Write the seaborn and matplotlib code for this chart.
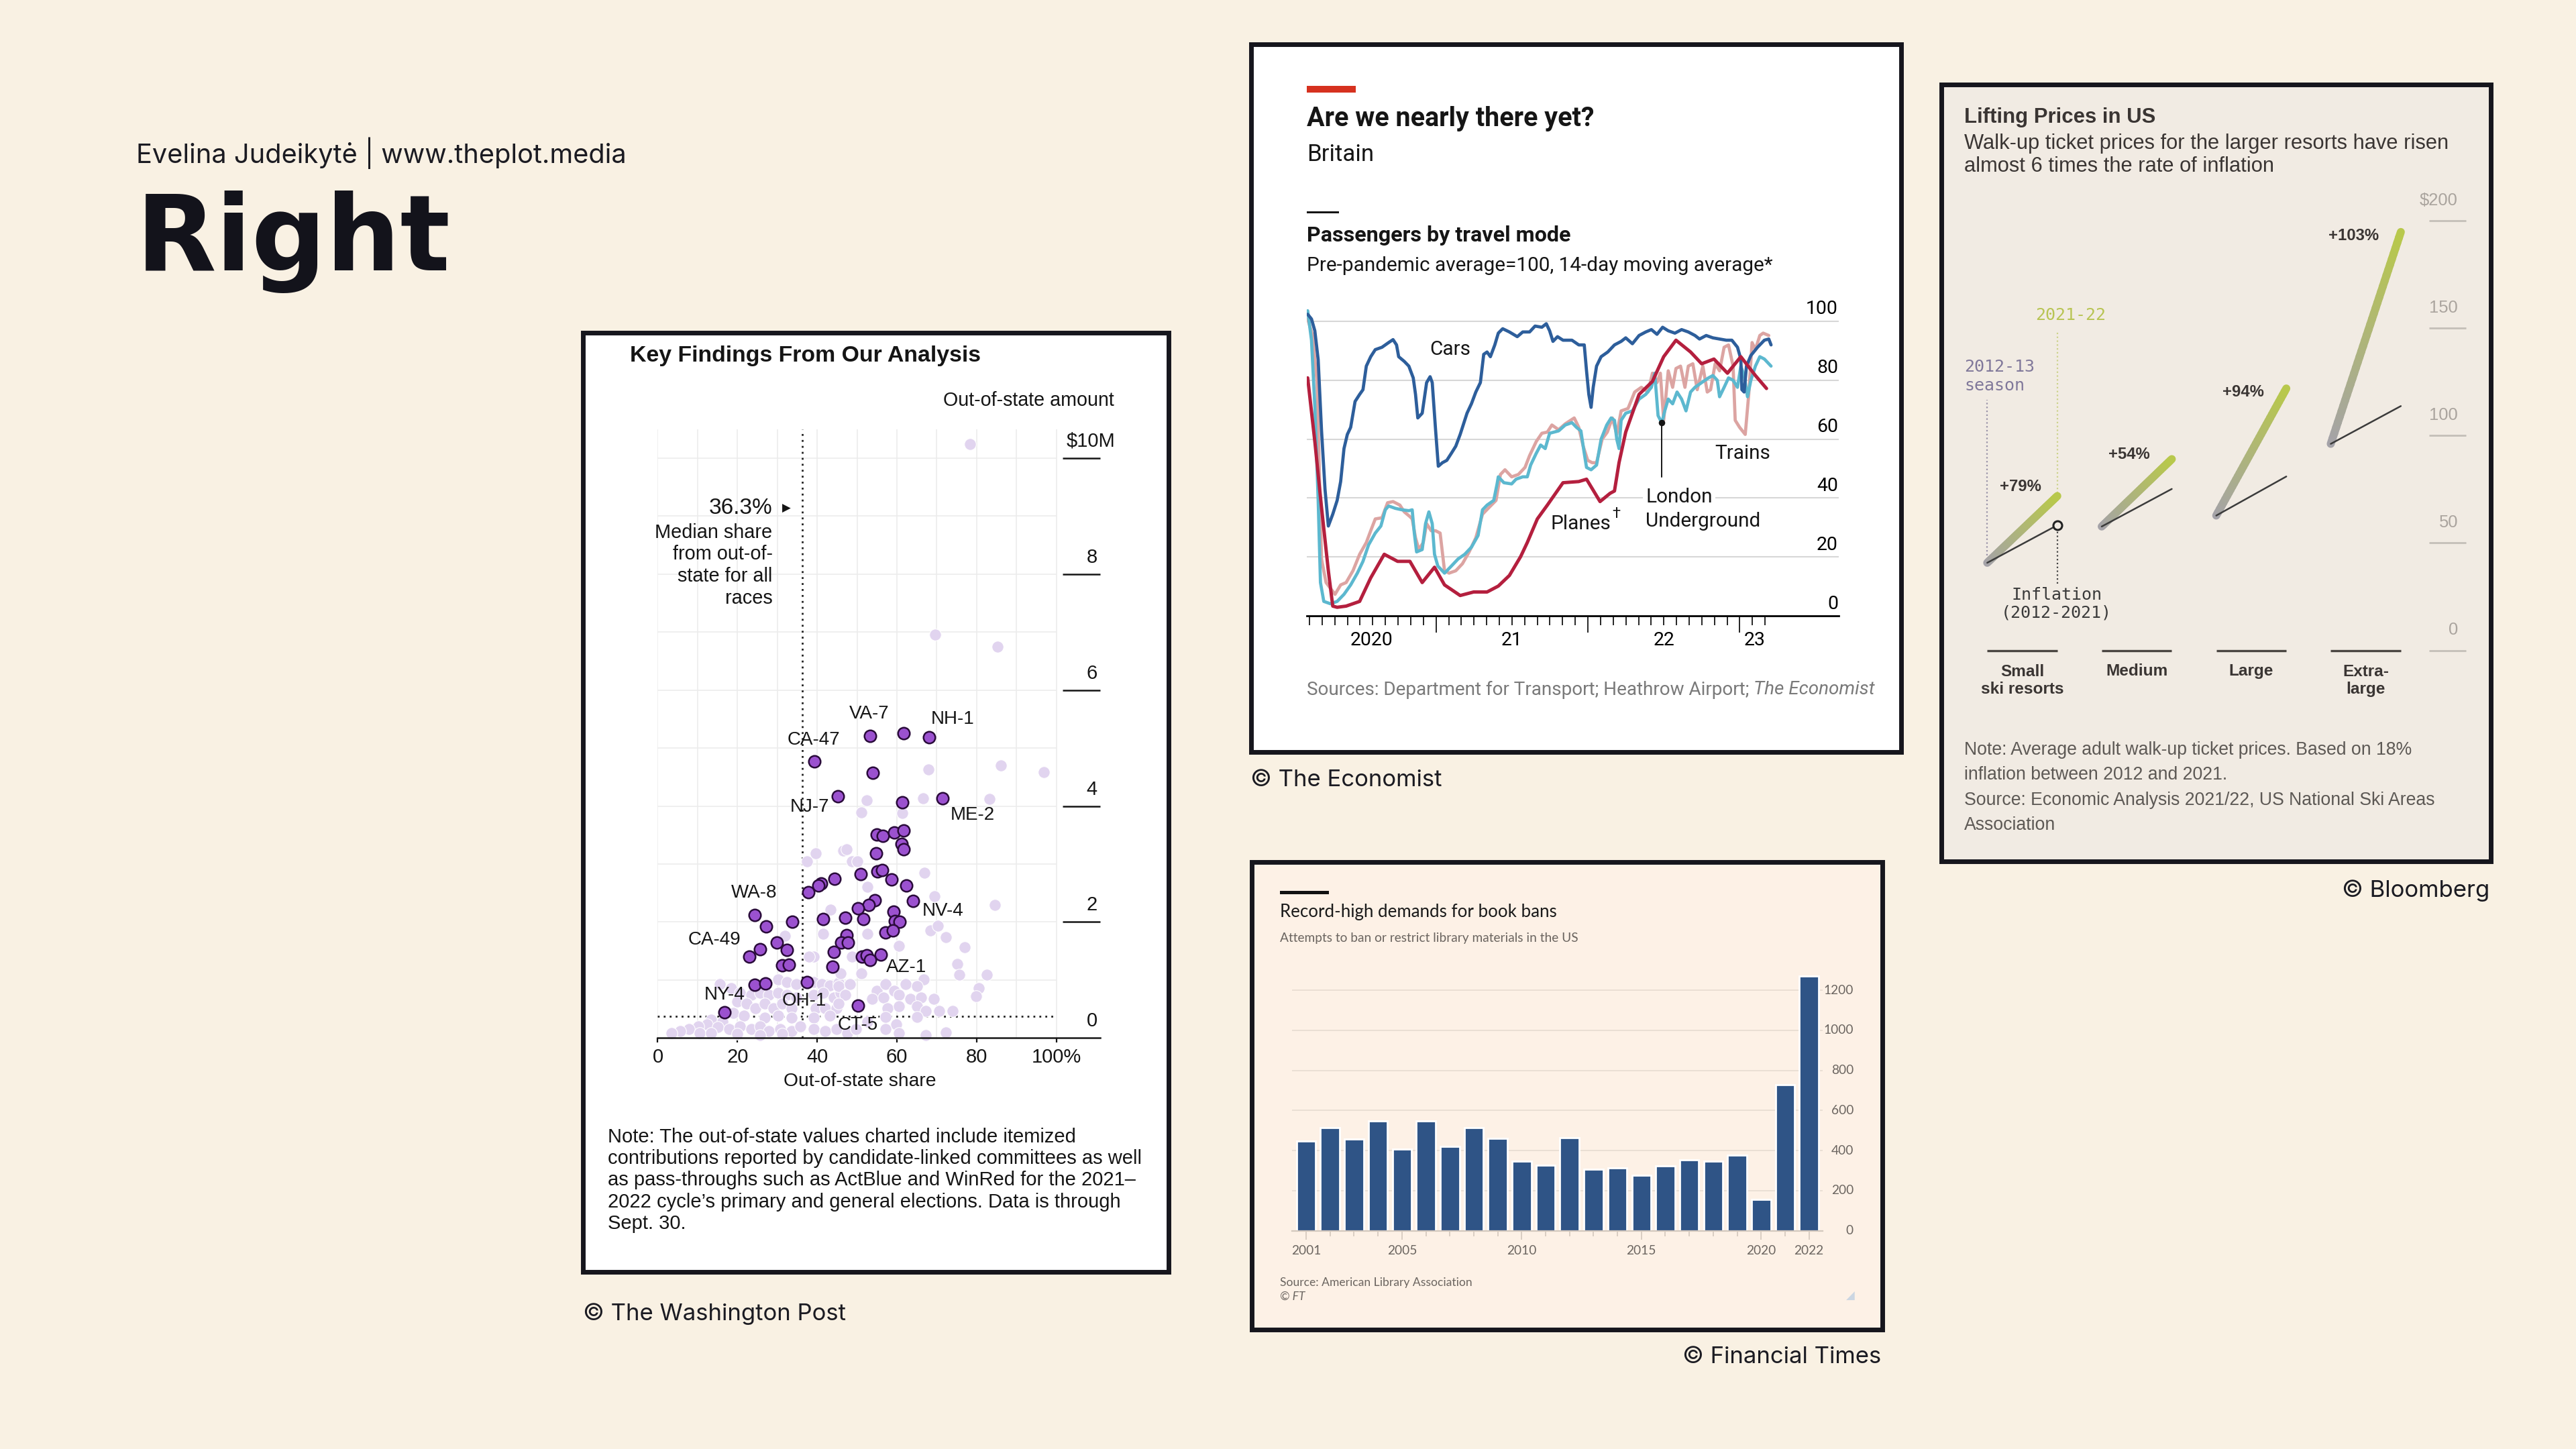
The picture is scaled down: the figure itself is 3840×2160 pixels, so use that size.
import numpy as np
import seaborn as sns
import matplotlib
matplotlib.use("Agg")
import matplotlib.pyplot as plt
from matplotlib.patches import Rectangle
from matplotlib.collections import LineCollection
from matplotlib.colors import to_rgb
from matplotlib import font_manager

sns.set_theme(style="white")
plt.rcParams["font.family"] = ["Liberation Sans", "DejaVu Sans"]

fonts_here = {f.name for f in font_manager.fontManager.ttflist}
ECON = "Liberation Sans Narrow" if "Liberation Sans Narrow" in fonts_here else "Roboto"
ECON_SCALE = 1.0 if ECON == "Liberation Sans Narrow" else 0.93

# ---------------- data: Washington Post scatter ----------------
dark_share = [53.2, 61.7, 68.1, 39.3, 54.0, 45.2, 61.3, 71.5, 54.9, 56.5, 59.3, 61.7, 61.2, 61.7,
              54.8, 50.9, 55.1, 56.3, 44.3, 40.9, 40.3, 37.7, 58.7, 62.3, 64.0, 54.4, 53.0, 50.3,
              59.1, 59.5, 60.7, 51.6, 47.1, 41.4, 33.8, 24.3, 27.2, 57.2, 59.0, 47.4, 46.0, 47.7,
              29.8, 25.6, 22.9, 32.4, 44.1, 51.2, 52.4, 53.3, 56.0, 31.2, 32.9, 43.9, 24.3, 27.0,
              37.4, 50.3, 16.7]
dark_amount = [5.21, 5.26, 5.19, 4.77, 4.57, 4.17, 4.06, 4.13, 3.51, 3.49, 3.54, 3.58, 3.35, 3.26,
               3.18, 2.83, 2.87, 2.90, 2.75, 2.67, 2.63, 2.51, 2.73, 2.63, 2.37, 2.38, 2.30, 2.24,
               2.18, 2.02, 2.01, 2.05, 2.07, 2.05, 2.00, 2.12, 1.92, 1.82, 1.85, 1.78, 1.65, 1.65,
               1.65, 1.53, 1.41, 1.52, 1.49, 1.40, 1.43, 1.35, 1.44, 1.25, 1.26, 1.23, 0.92, 0.94,
               0.96, 0.56, 0.44]

light_share = [78.3, 69.6, 85.3, 67.9, 86.0, 96.8, 66.5, 83.3, 52.5, 51.0, 61.4,
               39.7, 37.5, 46.6, 43.4, 41.4, 31.9, 39.2, 38.0, 30.2, 32.4, 34.7, 39.2, 41.2, 43.1,
               45.3, 15.6, 18.4, 20.6, 23.4, 25.6, 27.9, 30.2, 32.4, 34.7, 39.2, 41.4, 44.2, 45.9,
               20.0, 22.3, 24.5, 26.8, 29.0, 31.3, 33.6, 39.7, 42.0, 44.8, 18.9, 21.7, 26.8, 30.2,
               33.6, 39.2, 43.1, 13.4, 16.2, 12.3, 10.1, 7.8, 5.6, 3.4, 15.1, 17.9, 20.6, 23.4,
               25.6, 27.9, 30.7, 33.6, 35.8, 39.2, 42.0, 44.8, 10.6, 13.4, 20.0, 25.6, 31.3,
               47.3, 48.7, 50.1, 66.9, 52.6, 69.5, 84.6, 68.4, 70.3, 72.3, 77.0, 52.6, 60.5, 48.7,
               75.1, 75.6, 82.6, 45.9, 51.0, 66.7, 80.6, 79.8, 45.4, 48.2, 54.9, 57.1, 59.4, 62.2,
               65.0, 47.0, 53.8, 56.6, 60.5, 63.3, 66.1, 69.2, 45.4, 57.7, 60.5, 65.0, 67.2, 70.6,
               74.0, 57.1, 59.9, 65.0, 57.1, 60.5, 72.3, 67.2, 47.6, 49.8, 52.6]
light_amount = [10.24, 6.96, 6.75, 4.63, 4.70, 4.59, 4.13, 4.12, 4.10, 3.89, 3.88,
                3.18, 3.05, 3.23, 2.21, 1.80, 1.76, 1.40, 1.40, 1.01, 0.97, 0.93, 0.97, 0.93, 0.91,
                0.95, 0.93, 0.86, 0.78, 0.74, 0.78, 0.74, 0.78, 0.74, 0.70, 0.74, 0.78, 0.70, 0.78,
                0.63, 0.59, 0.51, 0.59, 0.51, 0.59, 0.51, 0.51, 0.51, 0.51, 0.43, 0.39, 0.35, 0.39,
                0.35, 0.35, 0.39, 0.32, 0.28, 0.24, 0.20, 0.16, 0.12, 0.09, 0.19, 0.16, 0.20, 0.16,
                0.20, 0.12, 0.16, 0.12, 0.20, 0.16, 0.12, 0.16, 0.09, 0.09, 0.07, 0.05, 0.07,
                3.25, 3.05, 3.05, 2.85, 2.61, 2.44, 2.30, 1.86, 1.94, 1.74, 1.57, 1.80, 1.59, 1.40,
                1.28, 1.09, 1.09, 1.12, 1.12, 1.01, 0.86, 0.72, 0.89, 0.93, 0.82, 0.93, 0.82, 0.93,
                0.89, 0.74, 0.67, 0.70, 0.74, 0.67, 0.70, 0.67, 0.59, 0.51, 0.55, 0.55, 0.47, 0.47,
                0.47, 0.36, 0.24, 0.36, 0.16, 0.09, 0.10, 0.05, 0.09, 0.16, 0.28]

race_names = ["VA-7", "NH-1", "CA-47", "NJ-7", "ME-2", "WA-8", "NV-4", "CA-49", "AZ-1", "NY-4", "OH-1", "CT-5"]
race_share = [53.1, 73.9, 39.1, 38.2, 78.9, 24.2, 71.5, 14.2, 62.3, 16.7, 36.7, 50.2]
race_amount = [5.59, 5.50, 5.14, 3.98, 3.85, 2.50, 2.19, 1.69, 1.22, 0.75, 0.64, 0.23]
median_share = 36.3
share_ticks = ["0", "20", "40", "60", "80", "100%"]
amount_ticks = ["0", "2", "4", "6", "8", "$10M"]

# ---------------- data: The Economist lines ----------------
cars_t = [2020.155, 2020.180, 2020.202, 2020.224, 2020.246, 2020.269, 2020.291, 2020.320, 2020.349,
          2020.372, 2020.394, 2020.416, 2020.438, 2020.467, 2020.497, 2020.519, 2020.541, 2020.570,
          2020.600, 2020.644, 2020.688, 2020.717, 2020.740, 2020.754, 2020.791, 2020.821, 2020.850,
          2020.865, 2020.880, 2020.909, 2020.938, 2020.961, 2020.975, 2020.997, 2021.015, 2021.042,
          2021.071, 2021.101, 2021.130, 2021.159, 2021.204, 2021.233, 2021.262, 2021.292, 2021.314,
          2021.336, 2021.358, 2021.387, 2021.410, 2021.439, 2021.483, 2021.535, 2021.571, 2021.616,
          2021.652, 2021.697, 2021.726, 2021.748, 2021.770, 2021.800, 2021.836, 2021.895, 2021.940,
          2021.976, 2021.991, 2022.006, 2022.021, 2022.035, 2022.057, 2022.087, 2022.131, 2022.175,
          2022.219, 2022.249, 2022.293, 2022.337, 2022.381, 2022.418, 2022.455, 2022.492, 2022.529,
          2022.573, 2022.617, 2022.661, 2022.705, 2022.735, 2022.779, 2022.823, 2022.867, 2022.911,
          2022.948, 2022.985, 2023.007, 2023.014, 2023.029, 2023.044, 2023.073, 2023.117, 2023.162,
          2023.191, 2023.206]
cars_v = [102.4, 100.8, 96.8, 87.0, 63.0, 43.0, 30.5, 34.5, 39.2, 45.6, 56.8, 61.6, 64.0, 72.8, 75.2,
          76.8, 84.8, 88.0, 90.4, 91.2, 92.8, 93.8, 92.0, 88.0, 86.4, 84.8, 80.8, 75.2, 67.2, 68.8,
          79.2, 81.2, 79.2, 63.2, 50.8, 52.0, 52.8, 55.2, 57.6, 61.6, 68.8, 72.0, 76.0, 79.2, 88.8,
          89.6, 88.0, 92.0, 96.0, 97.5, 96.4, 94.8, 96.4, 96.4, 98.4, 98.0, 99.2, 96.8, 93.2, 94.8,
          93.6, 93.6, 92.0, 92.0, 83.2, 75.2, 70.8, 77.6, 84.8, 88.0, 89.6, 92.0, 93.2, 94.4, 92.4,
          95.2, 96.4, 97.2, 95.6, 98.0, 96.8, 96.0, 97.2, 96.4, 95.2, 94.0, 95.2, 94.4, 94.0, 93.6,
          93.6, 91.2, 87.2, 76.8, 76.0, 84.8, 88.4, 91.2, 93.6, 94.0, 92.0]

tube_t = [2020.155, 2020.180, 2020.202, 2020.224, 2020.239, 2020.261, 2020.305, 2020.349, 2020.394,
          2020.438, 2020.482, 2020.519, 2020.556, 2020.600, 2020.637, 2020.666, 2020.688, 2020.732,
          2020.776, 2020.821, 2020.843, 2020.857, 2020.872, 2020.909, 2020.931, 2020.953, 2020.975,
          2020.990, 2021.012, 2021.056, 2021.101, 2021.145, 2021.189, 2021.233, 2021.277, 2021.306,
          2021.336, 2021.380, 2021.402, 2021.410, 2021.447, 2021.498, 2021.527, 2021.571, 2021.601,
          2021.623, 2021.660, 2021.689, 2021.719, 2021.748, 2021.807, 2021.851, 2021.895, 2021.925,
          2021.954, 2021.976, 2021.991, 2022.021, 2022.057, 2022.087, 2022.124, 2022.153, 2022.175,
          2022.190, 2022.205, 2022.219, 2022.249, 2022.293, 2022.337, 2022.381, 2022.418, 2022.440,
          2022.462, 2022.487, 2022.506, 2022.529, 2022.558, 2022.587, 2022.617, 2022.646, 2022.676,
          2022.705, 2022.749, 2022.794, 2022.823, 2022.852, 2022.867, 2022.897, 2022.926, 2022.956,
          2022.985, 2023.007, 2023.029, 2023.051, 2023.073, 2023.103, 2023.132, 2023.162, 2023.206]
tube_v = [103.6, 93.6, 71.2, 39.2, 11.3, 4.9, 4.1, 4.9, 7.3, 10.5, 14.5, 18.5, 24.1, 28.1, 30.5, 36.0,
          37.3, 36.5, 36.0, 35.7, 36.0, 28.1, 21.7, 22.5, 31.3, 35.3, 31.3, 20.9, 16.9, 14.5, 16.9,
          19.3, 20.9, 23.3, 27.3, 36.0, 37.6, 39.2, 44.8, 47.2, 45.2, 44.8, 46.4, 47.2, 47.2, 51.2,
          55.2, 58.0, 56.8, 62.0, 62.8, 64.8, 65.6, 64.0, 62.8, 55.2, 50.4, 49.6, 51.2, 60.0, 64.8,
          67.2, 66.4, 60.0, 56.8, 66.4, 68.8, 69.6, 73.6, 75.2, 77.6, 82.4, 68.0, 65.5, 69.6, 73.6,
          72.0, 76.0, 73.6, 69.6, 76.0, 77.6, 79.2, 80.8, 81.6, 80.0, 74.4, 77.6, 80.8, 80.0, 77.6,
          84.8, 81.6, 74.4, 80.0, 84.8, 88.0, 87.2, 84.8]

trains_t = [2020.155, 2020.187, 2020.217, 2020.246, 2020.276, 2020.335, 2020.372, 2020.408, 2020.453,
            2020.497, 2020.541, 2020.570, 2020.600, 2020.644, 2020.681, 2020.717, 2020.762, 2020.791,
            2020.828, 2020.843, 2020.865, 2020.887, 2020.916, 2020.938, 2020.968, 2020.997, 2021.027,
            2021.056, 2021.086, 2021.130, 2021.174, 2021.218, 2021.262, 2021.306, 2021.351, 2021.395,
            2021.424, 2021.454, 2021.498, 2021.542, 2021.586, 2021.616, 2021.660, 2021.697, 2021.733,
            2021.763, 2021.807, 2021.851, 2021.910, 2021.940, 2021.969, 2021.999, 2022.028, 2022.057,
            2022.094, 2022.128, 2022.161, 2022.190, 2022.219, 2022.264, 2022.308, 2022.352, 2022.396,
            2022.425, 2022.455, 2022.477, 2022.499, 2022.529, 2022.558, 2022.580, 2022.610, 2022.639,
            2022.661, 2022.691, 2022.720, 2022.757, 2022.786, 2022.808, 2022.838, 2022.867, 2022.897,
            2022.926, 2022.956, 2022.970, 2022.999, 2023.036, 2023.059, 2023.081, 2023.103, 2023.132,
            2023.154, 2023.191]
trains_v = [100.8, 95.2, 79.2, 19.3, 11.3, 7.3, 10.5, 11.3, 15.3, 20.9, 24.9, 28.9, 32.9, 33.3, 38.4,
            38.8, 37.6, 35.3, 33.7, 32.9, 26.5, 22.5, 24.9, 31.3, 28.9, 28.9, 28.1, 15.3, 14.5, 15.3,
            17.7, 21.7, 26.5, 34.5, 36.9, 39.2, 48.0, 49.6, 47.2, 48.0, 50.4, 54.4, 59.2, 62.0, 62.4,
            64.8, 63.2, 65.2, 67.2, 64.0, 57.6, 52.8, 52.0, 52.0, 60.0, 62.4, 67.2, 61.6, 69.6, 70.4,
            76.0, 77.6, 76.0, 82.4, 79.2, 82.4, 66.4, 83.2, 77.6, 84.0, 84.8, 77.6, 84.8, 85.6, 76.8,
            84.8, 76.0, 76.8, 85.6, 83.2, 91.2, 92.0, 84.8, 66.4, 64.0, 61.6, 75.2, 92.8, 90.4, 95.2,
            96.0, 95.2]

planes_t = [2020.155, 2020.202, 2020.246, 2020.291, 2020.320, 2020.349, 2020.408, 2020.497, 2020.570,
            2020.659, 2020.747, 2020.828, 2020.909, 2020.990, 2021.056, 2021.159, 2021.248, 2021.336,
            2021.410, 2021.483, 2021.557, 2021.601, 2021.667, 2021.733, 2021.836, 2021.940, 2021.991,
            2022.080, 2022.146, 2022.175, 2022.205, 2022.249, 2022.293, 2022.337, 2022.425, 2022.499,
            2022.580, 2022.676, 2022.749, 2022.830, 2022.919, 2023.007, 2023.103, 2023.176]
planes_v = [80.8, 59.2, 36.8, 15.3, 3.3, 2.9, 3.3, 4.9, 12.9, 20.9, 18.5, 18.5, 11.3, 16.5, 10.5, 6.9,
            8.1, 8.1, 10.1, 13.7, 20.1, 24.9, 32.9, 37.6, 45.2, 45.6, 46.4, 38.8, 41.6, 42.4, 52.0,
            62.4, 68.8, 75.2, 79.6, 88.0, 93.6, 89.6, 85.6, 87.2, 82.4, 88.0, 81.6, 77.2]

tube_low_t, tube_low_v = 2022.487, 65.5
econ_yticks = [0, 20, 40, 60, 80, 100]
econ_year_labels = ["2020", "21", "22", "23"]

# ---------------- data: FT bars ----------------
ban_years = list(range(2001, 2023))
ban_counts = [448, 515, 458, 546, 406, 546, 420, 514, 460, 348, 326, 465, 308, 312, 277, 325, 354,
              348, 377, 157, 728, 1269]
ban_year_labels = [2001, 2005, 2010, 2015, 2020, 2022]
ban_yticks = [0, 200, 400, 600, 800, 1000, 1200]

# ---------------- data: Bloomberg ski prices ----------------
resort_names = ["Small\nski resorts", "Medium", "Large", "Extra-\nlarge"]
price_2012 = [40.8, 57.7, 62.8, 96.2]
price_2021 = [71.9, 89.1, 122.0, 194.9]
inflation_end = [58.3, 75.2, 81.0, 113.8]
price_change = ["+79%", "+54%", "+94%", "+103%"]
price_ticks = [0, 50, 100, 150, 200]

# ---------------- layout helpers ----------------
W, H = 3840, 2160
BG = "#f9f1e3"
BORDER = "#16161d"
INK = "#151515"

fig = plt.figure(figsize=(19.2, 10.8), dpi=200)
fig.patch.set_facecolor(BG)


def fx(px):
    return px / W


def fy(py):
    return 1 - py / H


def txt(x, y, s, size, **kw):
    kw.setdefault("va", "center")
    kw.setdefault("color", INK)
    return fig.text(fx(x), fy(y), s, fontsize=size, **kw)


def etxt(x, y, s, size, **kw):
    # economist texts, condensed face when there is one
    kw.setdefault("family", [ECON, "DejaVu Sans"])
    return txt(x, y, s, size * ECON_SCALE, **kw)


def box(x0, y0, x1, y1, face, edge=BORDER, lw=2.5, z=-5):
    fig.add_artist(Rectangle((fx(x0), fy(y1)), (x1 - x0) / W, (y1 - y0) / H,
                             transform=fig.transFigure, facecolor=face, edgecolor=edge,
                             lw=lw, zorder=z))


def axes_px(x0, y0, x1, y1):
    ax = fig.add_axes([fx(x0), fy(y1), (x1 - x0) / W, (y1 - y0) / H])
    ax.set_facecolor("none")
    for s in ["top", "right", "left", "bottom"]:
        ax.spines[s].set_visible(False)
    ax.set_xticks([])
    ax.set_yticks([])
    return ax


# ---------------- page header ----------------
txt(203, 228, "Evelina Judeikytė | www.theplot.media", 14.3, family=["Inter", "DejaVu Sans"], color="#1b1b22")
txt(203, 403, "Right", 56, family=["DejaVu Sans"], weight="heavy", va="baseline", color="#13131b")

txt(869, 1959, "© The Washington Post", 12.5, family=["Inter", "DejaVu Sans"], color="#1b1b22")
txt(1864, 1163, "© The Economist", 12.5, family=["Inter", "DejaVu Sans"], color="#1b1b22")
txt(2804, 2023, "© Financial Times", 12.5, family=["Inter", "DejaVu Sans"], color="#1b1b22", ha="right")
txt(3711, 1328, "© Bloomberg", 12.5, family=["Inter", "DejaVu Sans"], color="#1b1b22", ha="right")

# ---------------- Washington Post ----------------
box(869, 496, 1742, 1896, "white")
txt(939, 531, "Key Findings From Our Analysis", 12.2, weight="bold")
txt(1661, 597, "Out-of-state amount", 10.3, ha="right")

axw = axes_px(980.5, 631.0, 1640.1, 1547.4)
axw.set_xlim(0, 111)
axw.set_ylim(0, 10.6)
axw.spines["bottom"].set_visible(True)
axw.spines["bottom"].set_color(INK)
axw.spines["bottom"].set_linewidth(0.9)
axw.vlines(range(0, 101, 10), 0, 10.5, color="#ececec", lw=0.6, zorder=0)
axw.hlines(range(1, 11), 0, 100, color="#ececec", lw=0.6, zorder=0)
axw.vlines(median_share, 0, 10.5, color="#222222", lw=1.0, linestyles=(0, (1, 2.2)), zorder=1)
axw.hlines(0.38, 0, 100, color="#222222", lw=1.0, linestyles=(0, (1, 2.2)), zorder=1)
axw.set_xticks([0, 20, 40, 60, 80, 100])
axw.set_xticklabels(share_ticks)
axw.tick_params(axis="x", bottom=True, length=2.6, width=0.8, color=INK, pad=2.5,
                labelsize=10.5, labelcolor=INK)
axw.hlines([2, 4, 6, 8, 10], 101.5, 111, color=INK, lw=0.9, clip_on=False)
for v, lab in zip([0, 2, 4, 6, 8, 10], amount_ticks):
    axw.text(114.7 if v == 10 else 110.3, v + 0.29, lab, ha="right", va="center",
             fontsize=10.5, color=INK)

sns.scatterplot(x=light_share, y=light_amount, ax=axw, s=40, color="#e1d4ef",
                edgecolor="white", linewidth=0.4, zorder=2, clip_on=False, legend=False)
sns.scatterplot(x=dark_share, y=dark_amount, ax=axw, s=40, color="#9b51cf",
                edgecolor="#2a0b3b", linewidth=0.9, zorder=3, clip_on=False, legend=False)
for name, xs, ys in zip(race_names, race_share, race_amount):
    axw.text(xs, ys, name, ha="center", va="center", fontsize=10, color=INK, zorder=4)

txt(1151.6, 757, "36.3%", 12, ha="right")
txt(1172, 758, "▶", 6, ha="center", family=["DejaVu Sans"])
for i, line in enumerate(["Median share", "from out-of-", "state for all", "races"]):
    txt(1151.6, 794 + i * 32.5, line, 10.4, ha="right")
txt(1282, 1612, "Out-of-state share", 10.2, ha="center")

wapo_note = ["Note: The out-of-state values charted include itemized",
             "contributions reported by candidate-linked committees as well",
             "as pass-throughs such as ActBlue and WinRed for the 2021–",
             "2022 cycle’s primary and general elections. Data is through",
             "Sept. 30."]
for i, line in enumerate(wapo_note):
    txt(906, 1695 + i * 32.2, line, 10.5)

# ---------------- The Economist ----------------
box(1865, 66, 2834, 1121, "white")
fig.add_artist(Rectangle((fx(1948), fy(137.5)), 73 / W, 9.5 / H, transform=fig.transFigure,
                         facecolor="#d6311f", edgecolor="none", zorder=2))
fig.add_artist(Rectangle((fx(1948), fy(317.5)), 48.5 / W, 2.2 / H, transform=fig.transFigure,
                         facecolor=INK, edgecolor="none", zorder=2))
etxt(1948, 177, "Are we nearly there yet?", 15.3, weight="bold")
etxt(1948, 231, "Britain", 13.5)
etxt(1948, 351, "Passengers by travel mode", 12.5, weight="bold")
etxt(1948, 396, "Pre-pandemic average=100, 14-day moving average*", 11.5)

axe = axes_px(1948, 452.7, 2740.6, 918)
axe.set_xlim(2020.149, 2023.65)
axe.set_ylim(0, 106)
axe.spines["bottom"].set_visible(True)
axe.spines["bottom"].set_color("black")
axe.spines["bottom"].set_linewidth(1.0)
axe.hlines(econ_yticks[1:], 2020.149, 2023.65, color="#d7d7d7", lw=0.75, zorder=0)
month_ticks = 2020 + np.arange(2, 39) / 12
axe.set_xticks([2021, 2022, 2023])
axe.set_xticks([m for m in month_ticks if abs(m - round(m)) > 1e-6], minor=True)
axe.set_xticklabels([])
axe.tick_params(axis="x", which="major", bottom=True, length=9, width=0.6, color="black")
axe.tick_params(axis="x", which="minor", bottom=True, length=5, width=0.6, color="black")

sns.lineplot(x=trains_t, y=trains_v, ax=axe, color="#dca4a2", lw=1.7, zorder=2, estimator=None)
sns.lineplot(x=tube_t, y=tube_v, ax=axe, color="#5cb8cf", lw=1.7, zorder=3, estimator=None)
sns.lineplot(x=cars_t, y=cars_v, ax=axe, color="#2d5e9b", lw=1.7, zorder=4, estimator=None)
sns.lineplot(x=planes_t, y=planes_v, ax=axe, color="#b41f3e", lw=1.8, zorder=5, estimator=None)
axe.plot([tube_low_t, tube_low_t], [tube_low_v, 47.2], color=INK, lw=0.7, zorder=6)
axe.scatter([tube_low_t], [tube_low_v], s=6, color=INK, zorder=6)
axe.set_xlabel("")
axe.set_ylabel("")

for v in econ_yticks:
    etxt(2740, 918 - v * 4.39 - 18, str(v), 11, ha="right", color="black")
for xpos, lab in zip([2044.4, 2253.8, 2480.2, 2616.0], econ_year_labels):
    etxt(xpos, 955, lab, 11, ha="center", color="black")

etxt(2162, 521, "Cars", 11.5, ha="center")
etxt(2312, 781, "Planes", 11.5)
etxt(2403, 766, "†", 8.5)
etxt(2598, 676, "Trains", 11.5, ha="center")
etxt(2453, 741, "London", 11.5, bbox=dict(facecolor="white", edgecolor="none", pad=1.5))
etxt(2453, 777, "Underground", 11.5)

src = etxt(1948, 1028, "Sources: Department for Transport; Heathrow Airport; ", 10.8, color="#7a7a7a")
renderer = fig.canvas.get_renderer()
bb = src.get_window_extent(renderer)
fig.text(bb.x1 / fig.bbox.width, fy(1028), "The Economist", fontsize=10.8 * ECON_SCALE, va="center",
         style="italic", family=[ECON, "DejaVu Sans"], color="#7a7a7a")

# ---------------- Financial Times ----------------
box(1866, 1285, 2806, 1982, "#fdf1e6")
fig.add_artist(Rectangle((fx(1908), fy(1333)), 73 / W, 5 / H, transform=fig.transFigure,
                         facecolor="#111111", edgecolor="none", zorder=2))
txt(1908, 1359, "Record-high demands for book bans", 9.3, family=["Lato", "DejaVu Sans"], color="#1a1a1a")
txt(1908, 1398.5, "Attempts to ban or restrict library materials in the US", 6.9,
    family=["Lato", "DejaVu Sans"], color="#6b6560")

axf = axes_px(1926, 1446.2, 2717, 1834.6)
sns.barplot(x=ban_years, y=ban_counts, native_scale=True, color="#2f5486", saturation=1,
            width=0.8, ax=axf, zorder=2)
axf.set_xlim(2000.41, 2022.57)
axf.set_ylim(0, 1300)
axf.set_xlabel("")
axf.set_ylabel("")
axf.hlines(ban_yticks[1:], 2000.41, 2022.57, color="#eadfd4", lw=0.7, zorder=0)
axf.spines["bottom"].set_visible(True)
axf.spines["bottom"].set_color("#d3c8bd")
axf.spines["bottom"].set_linewidth(0.8)
axf.set_xticks(ban_year_labels)
axf.set_xticklabels([str(y) for y in ban_year_labels])
axf.set_xticks([y for y in ban_years if y not in ban_year_labels], minor=True)
axf.set_yticks([])
axf.tick_params(axis="x", which="major", bottom=True, length=4.5, width=0.6, color="#d3c8bd",
                pad=3.2, labelsize=6.9, labelcolor="#6b6560")
axf.tick_params(axis="x", which="minor", bottom=True, length=3, width=0.6, color="#d3c8bd")
for lab in axf.get_xticklabels():
    lab.set_family(["Lato", "DejaVu Sans"])
for v in ban_yticks:
    txt(2763, 1834.6 - v * 0.29875, str(v), 6.9, ha="right", family=["Lato", "DejaVu Sans"], color="#6b6560")
txt(1908, 1912, "Source: American Library Association", 6.3, family=["Lato", "DejaVu Sans"], color="#6b6560")
txt(1908, 1933, "© FT", 6.3, family=["Lato", "DejaVu Sans"], style="italic", color="#6b6560")
txt(2758, 1932, "◢", 6, ha="center", family=["DejaVu Sans"], color="#cbd6e2")

# ---------------- Bloomberg ----------------
box(2894, 126, 3713, 1284, "#f1ebe3")
BB_INK = "#3a3533"
txt(2927.5, 175.5, "Lifting Prices in US", 11.2, weight="bold", color=BB_INK)
txt(2927.5, 214, "Walk-up ticket prices for the larger resorts have risen", 11.1, color=BB_INK)
txt(2927.5, 248, "almost 6 times the rate of inflation", 11.1, color=BB_INK)

axb = axes_px(2930, 290, 3690, 1000)
axb.set_xlim(-0.1892, 4.2630)
axb.set_ylim(-9.53, 212.34)
span = 0.612
gray_rgb, green_rgb = np.array(to_rgb("#a4a2a8")), np.array(to_rgb("#b8c84c"))
for i in range(len(resort_names)):
    xs = np.linspace(i, i + span, 40)
    ys = np.linspace(price_2012[i], price_2021[i], 40)
    pts = np.column_stack([xs, ys]).reshape(-1, 1, 2)
    segs = np.concatenate([pts[:-1], pts[1:]], axis=1)
    frac = np.linspace(0, 1, len(segs))[:, None]
    cols = gray_rgb * (1 - frac) + green_rgb * frac
    axb.add_collection(LineCollection(segs, colors=cols, linewidths=4.3, capstyle="round", zorder=3))
    sns.lineplot(x=[i, i + span], y=[price_2012[i], inflation_end[i]], ax=axb, color="#3b3b3b",
                 lw=0.9, zorder=4, estimator=None)
    axb.hlines(0, i, i + span, color="#4a4541", lw=1.2)
axb.scatter([span], [inflation_end[0]], s=22, facecolor="#f1ebe3", edgecolor="#222222", lw=1.1, zorder=5)
axb.set_xlabel("")
axb.set_ylabel("")

axb.vlines(0, 44.1, 116.6, color="#9a93a8", lw=0.8, linestyles=(0, (1, 1.6)), zorder=1)
axb.vlines(span, 73.3, 148.9, color="#cdd38c", lw=0.8, linestyles=(0, (1, 1.6)), zorder=1)
axb.vlines(span, 31.1, 56.4, color="#444444", lw=0.8, linestyles=(0, (1, 1.6)), zorder=1)

axb.hlines(price_ticks, 3.859, 4.181, color="#c4bfb8", lw=1.0)
for v in price_ticks:
    lab = "$200" if v == 200 else str(v)
    txt(3664, 969.5 - v * 3.2 - 30, lab, 9.2, ha="right", color="#aaa49e")

mono = ["DejaVu Sans Mono"]
txt(3086.6, 470, "2021-22", 9, ha="center", family=mono, color="#b8c454")
txt(2928.6, 547, "2012-13", 9, family=mono, color="#80789a")
txt(2928.6, 575, "season", 9, family=mono, color="#80789a")
txt(3065.7, 887, "Inflation", 9, ha="center", family=mono, color="#3a3a3a")
txt(3065.7, 913.5, "(2012-2021)", 9, ha="center", family=mono, color="#3a3a3a")
for (px, py), lab in zip([(3012, 726), (3174, 677), (3344, 585), (3508.6, 351.5)], price_change):
    txt(px, py, lab, 8.6, ha="center", weight="bold", color=BB_INK)
for i, name in enumerate(resort_names):
    cx = 2962.3 + (i + span / 2) * 170.7
    txt(cx, 1000.6 if "\n" not in name else 1014.5, name, 8.8, ha="center", weight="bold",
        color=BB_INK, linespacing=1.2)

bb_note = ["Note: Average adult walk-up ticket prices. Based on 18%",
           "inflation between 2012 and 2021.",
           "Source: Economic Analysis 2021/22, US National Ski Areas",
           "Association"]
for i, line in enumerate(bb_note):
    txt(2927.5, 1118 + i * 37.3, line, 9.6, color="#5d5955")

fig.savefig("out.png", dpi=200, facecolor=BG)
